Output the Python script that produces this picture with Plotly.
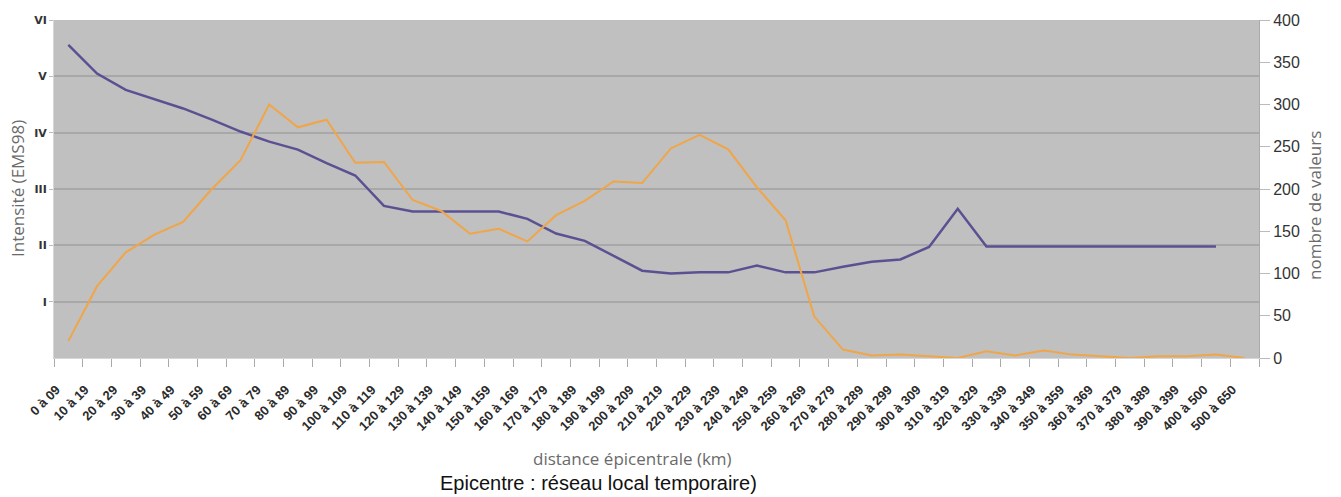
import plotly.graph_objects as go

# Distance classes (km)
classes = [f"{d} à {d + 9:02d}" if d == 0 else f"{d} à {d + 9}" for d in range(0, 400, 10)]
classes += ["400 à 500", "500 à 650"]

# Mean intensity per distance class (EMS98 scale)
intensite = [5.56, 5.05, 4.76, 4.60, 4.43, 4.23, 4.02, 3.84, 3.70, 3.46,
             3.24, 2.70, 2.60, 2.60, 2.60, 2.60, 2.47, 2.21, 2.08, 1.81,
             1.55, 1.50, 1.52, 1.52, 1.64, 1.52, 1.52, 1.62, 1.71, 1.75,
             1.97, 2.65, 1.98, 1.98, 1.98, 1.98, 1.98, 1.98, 1.98, 1.98,
             1.98, None]

# Number of observations per distance class
nombre = [20, 85, 125, 146, 161, 200, 234, 300, 273, 282,
          231, 232, 187, 174, 147, 153, 138, 169, 186, 209,
          207, 248, 264, 247, 202, 163, 49, 10, 3, 4,
          2, 0, 8, 3, 9, 4, 2, 0, 2, 2,
          4, 0]

roman_vals = [1, 2, 3, 4, 5, 6]
roman_text = ["I", "II", "III", "IV", "V", "VI"]
count_ticks = [0, 50, 100, 150, 200, 250, 300, 350, 400]

# plot area in pixels
L, R, T, B = 54, 1259, 20, 358
W, H = 1341, 497


def px_x(x):
    return (x - L) / (R - L)


def px_y(y):
    return (B - y) / (B - T)


title_font = dict(family="Open Sans", size=17, color="#6a6a6a")

fig = go.Figure()
fig.add_trace(go.Scatter(x=classes, y=intensite, mode="lines", yaxis="y",
                         line=dict(color="#5b5192", width=2.5),
                         connectgaps=False, showlegend=False))
fig.add_trace(go.Scatter(x=classes, y=nombre, mode="lines", yaxis="y2",
                         line=dict(color="#f0a547", width=2),
                         showlegend=False))

fig.update_layout(
    width=W, height=H,
    margin=dict(l=L, r=W - R, t=T, b=H - B),
    paper_bgcolor="white",
    plot_bgcolor="#c0c0c0",
    xaxis=dict(
        type="category", categoryorder="array", categoryarray=classes,
        tickangle=-45, tickson="boundaries", automargin=False,
        ticks="outside", ticklen=8, tickcolor="#aaaaaa",
        ticklabelstandoff=18, ticklabelshift=-12,
        showgrid=False, showline=True, linecolor="#d6d6d6", linewidth=1,
        tickfont=dict(family="Liberation Sans", size=13, color="#2a2a2a", weight="bold"),
        range=[-0.5, len(classes) - 0.5],
    ),
    yaxis=dict(
        range=[0, 6], tickvals=roman_vals, ticktext=roman_text, automargin=False,
        showgrid=True, gridcolor="#a8a8a8", gridwidth=2,
        zeroline=False, ticks="outside", ticklen=4, tickcolor="#bbbbbb",
        showline=True, linecolor="#d6d6d6", linewidth=1,
        tickfont=dict(family="DejaVu Sans", size=11, color="#333333", weight="bold"),
    ),
    yaxis2=dict(
        overlaying="y", side="right", range=[0, 400], automargin=False,
        tickvals=count_ticks,
        showgrid=False, zeroline=False,
        ticks="outside", ticklen=10, tickcolor="#bbbbbb",
        showline=True, linecolor="#aaaaaa", linewidth=1,
        tickfont=dict(family="Liberation Sans Narrow, Liberation Sans", size=16,
                      color="#333333"),
    ),
    annotations=[
        dict(text="distance épicentrale (km)", xref="paper", yref="paper",
             x=px_x(632), y=px_y(458), xanchor="center", yanchor="middle",
             showarrow=False, font=title_font),
        dict(text="Intensité (EMS98)", xref="paper", yref="paper",
             x=px_x(17), y=px_y(189), xanchor="center", yanchor="middle",
             textangle=-90, showarrow=False, font=title_font),
        dict(text="nombre de valeurs", xref="paper", yref="paper",
             x=px_x(1315), y=px_y(206), xanchor="center", yanchor="middle",
             textangle=-90, showarrow=False, font=title_font),
        dict(text="Epicentre : réseau local temporaire)", xref="paper", yref="paper",
             x=px_x(598), y=px_y(483), xanchor="center", yanchor="middle",
             showarrow=False,
             font=dict(family="Liberation Sans", size=20, color="#111111")),
    ],
)

fig.write_html("out.html")
